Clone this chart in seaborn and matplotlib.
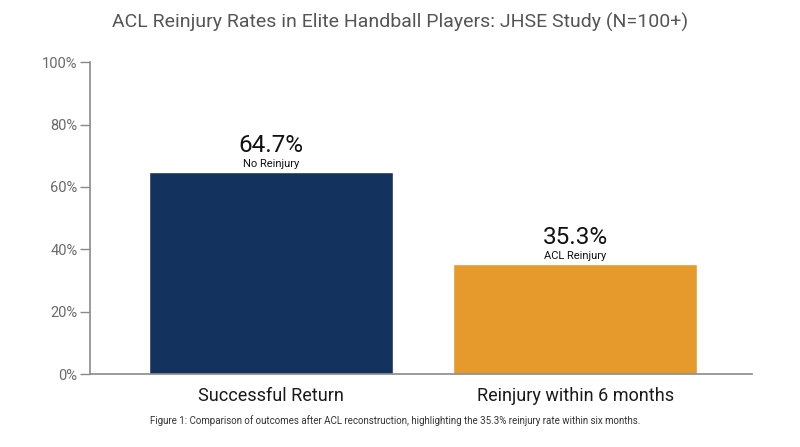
import matplotlib
matplotlib.use("Agg")
import matplotlib.pyplot as plt
import seaborn as sns
import pandas as pd

# data
categories = ["Successful Return", "Reinjury within 6 months"]
rates = [64.7, 35.3]
sub_labels = ["No Reinjury", "ACL Reinjury"]
bar_colors = ["#14325e", "#e59a2b"]
yticks = [0, 20, 40, 60, 80, 100]

sns.set_theme(style="white")
plt.rcParams["font.family"] = ["Roboto", "DejaVu Sans"]

df = pd.DataFrame({"cat": categories, "rate": rates})

fig = plt.figure(figsize=(8, 4.47), dpi=100)
ax = fig.add_axes([0.1125, 0.163, 0.8275, 0.698])

sns.barplot(data=df, x="cat", y="rate", hue="cat", palette=bar_colors,
            width=0.8, legend=False, ax=ax, saturation=1)

ax.set_ylim(0, 100)
ax.set_xlim(-0.593, 1.58)
ax.set_yticks(yticks)
ax.set_yticklabels([f"{t}%" for t in yticks])
ax.set_xlabel("")
ax.set_ylabel("")

for s in ["top", "right"]:
    ax.spines[s].set_visible(False)
for s in ["left", "bottom"]:
    ax.spines[s].set_color("#8a8a8a")
    ax.spines[s].set_linewidth(1.2)

ax.tick_params(axis="y", left=True, length=7, width=1, color="#8a8a8a",
               labelsize=10.5, labelcolor="#6a6a6a", pad=2)
ax.tick_params(axis="x", bottom=False, labelsize=13, labelcolor="#1a1a1a", pad=3)

for i, (v, sub) in enumerate(zip(rates, sub_labels)):
    ax.annotate(f"{v}%", (i, v), xytext=(0, 11), textcoords="offset points",
                ha="center", va="bottom", fontsize=17.5, color="#111111")
    ax.annotate(sub, (i, v), xytext=(0, 2), textcoords="offset points",
                ha="center", va="bottom", fontsize=8, color="#111111")

fig.text(0.5, 0.95, "ACL Reinjury Rates in Elite Handball Players: JHSE Study (N=100+)",
         ha="center", va="center", fontsize=14, color="#555555")
fig.text(0.494, 0.06,
         "Figure 1: Comparison of outcomes after ACL reconstruction, highlighting the 35.3% reinjury rate within six months.",
         ha="center", va="center", fontsize=7, color="#333333")

fig.savefig("out.png", dpi=100, facecolor="white")
